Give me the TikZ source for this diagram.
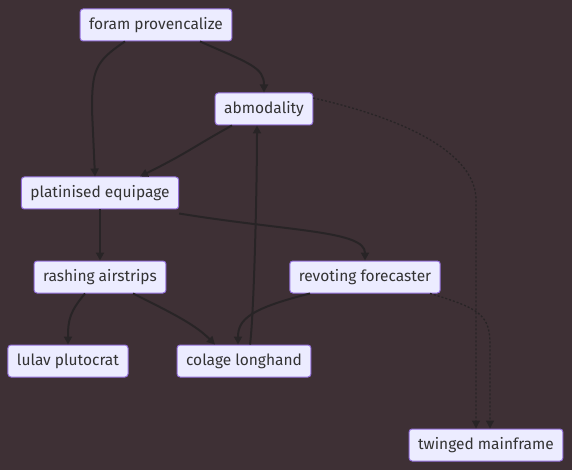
\documentclass[tikz,border=0pt]{standalone}
\usepackage{fontspec}
\setmainfont{Fira Sans}
\usetikzlibrary{arrows.meta}
\definecolor{bgcol}{RGB}{62,48,53}
\definecolor{boxfill}{RGB}{236,236,255}
\definecolor{boxline}{RGB}{147,112,219}
\definecolor{linkcol}{RGB}{40,36,38}
\begin{document}
\begin{tikzpicture}[x=1pt, y=-1pt,
        box/.style={draw=boxline, fill=boxfill, rounded corners=3pt, line width=1pt,
          minimum height=32pt, inner xsep=9pt, text=black!80,
          font=\fontsize{15.5}{18}\selectfont},
        link/.style={draw=linkcol, line width=2pt, -{Triangle[length=8pt, width=8pt]}},
        dotlink/.style={link, line width=1.3pt, dash pattern=on 2pt off 2pt}
      ]
      \fill[bgcol] (0, 0) rectangle (572, 470);
      \useasboundingbox (0, 0) rectangle (572, 470);
      % nodes
      \node[box] at (156, 25) (foram) {foram provencalize};
      \node[box] at (264, 109) (abmod) {abmodality};
      \node[box] at (100, 193) (plat) {platinised equipage};
      \node[box] at (100, 277) (rash) {rashing airstrips};
      \node[box] at (365, 277) (revot) {revoting forecaster};
      \node[box] at (68, 361) (lulav) {lulav plutocrat};
      \node[box] at (244, 361) (colage) {colage longhand};
      \node[box] at (486, 445) (twing) {twinged mainframe};
      % edges
      \draw[link] ([xshift=-31pt]foram.south) .. controls +(-30, 20) and +(0, -40) .. ([xshift=-8pt]plat.north |- 0, 110) -- ([xshift=-5pt]plat.north);
      \draw[link] ([xshift=44pt]foram.south) .. controls +(50, 22) and +(0, -25) .. (abmod.north);
      \draw[link] ([xshift=-32pt]abmod.south) .. controls +(-40, 22) and +(50, -25) .. ([xshift=40pt]plat.north);
      \draw[link] (plat.south) -- (rash.north);
      \draw[link] ([yshift=-4pt]plat.south east) .. controls +(110, 18) and +(0, -30) .. (revot.north);
      \draw[link] ([xshift=-15pt]rash.south) .. controls +(-15, 18) and +(0, -25) .. ([xshift=0pt]lulav.north);
      \draw[link] ([xshift=33pt]rash.south) .. controls +(40, 20) and +(-20, -20) .. ([xshift=-29pt]colage.north);
      \draw[link] ([xshift=6pt]colage.north) .. controls +(4, -30) and +(0, 60) .. ([xshift=-7pt]abmod.south);
      \draw[link] ([xshift=-55pt]revot.south) .. controls +(-60, 15) and +(0, -25) .. ([xshift=-6pt]colage.north);
      \draw[dotlink] ([yshift=11pt]abmod.east) .. controls +(110, 25) and +(0, -40) .. (476, 200) -- ([xshift=-10pt]twing.north);
      \draw[dotlink] ([xshift=65pt]revot.south) .. controls +(50, 15) and +(0, -30) .. (490, 345) -- ([xshift=4pt]twing.north);
  \end{tikzpicture}
\end{document}
